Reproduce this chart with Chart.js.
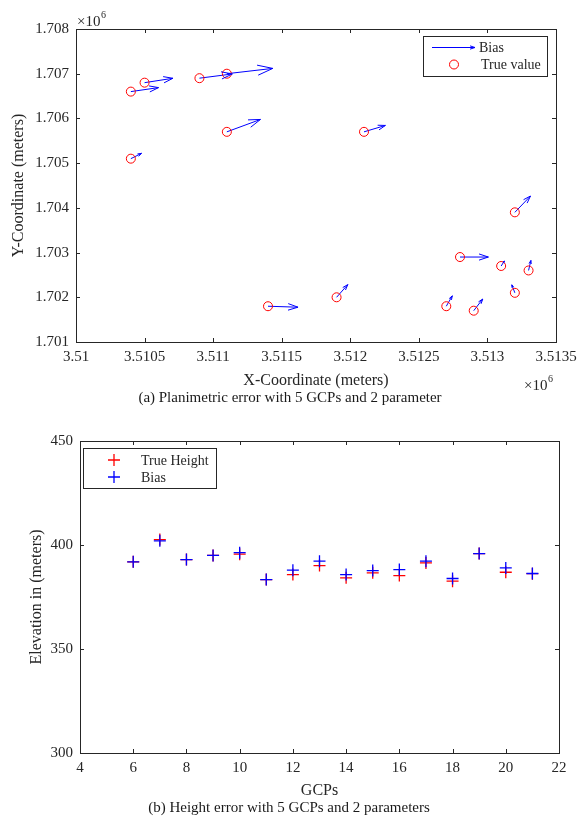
<!DOCTYPE html>
<html>
<head>
<meta charset="utf-8">
<script src="https://cdn.jsdelivr.net/npm/chart.js@4.4.1/dist/chart.umd.min.js"></script>
<style>
    html, body { margin: 0; padding: 0; background: #fff; }
    #page { position: relative; width: 578px; height: 823px; overflow: hidden; }
    canvas { position: absolute; left: 0; }
    #planChart { top: 0; }
    #heightChart { top: 410px; }
</style>
</head>
<body>
<div id="page">
    <canvas id="planChart" width="578" height="410"></canvas>
    <canvas id="heightChart" width="578" height="413"></canvas>
</div>
<script>
// (a) true GCP positions, metres
const trueX = [3510400, 3510500, 3510900, 3511100, 3511100, 3512100, 3510400, 3513200,
               3512800, 3513100, 3513300, 3513200, 3512700, 3512900, 3511400, 3511900];
const trueY = [1706600, 1706800, 1706900, 1707000, 1705700, 1705700, 1705100, 1703900,
               1702900, 1702700, 1702600, 1702100, 1701800, 1701700, 1701800, 1702000];
// bias vectors as drawn by the quiver (metres, scaled)
const biasU = [202, 207, 240, 335, 245, 156, 78, 114, 207, 24, 17, -22, 44, 66, 219, 82];
const biasV = [89, 98, 94, 119, 277, 143, 119, 365, 0, 112, 224, 179, 233, 262, -22, 284];

const xTicksA = [3510000, 3510500, 3511000, 3511500, 3512000, 3512500, 3513000, 3513500];
const yTicksA = [1701000, 1702000, 1703000, 1704000, 1705000, 1706000, 1707000, 1708000];

// (b) heights per GCP
const gcpIds = [6, 7, 8, 9, 10, 11, 12, 13, 14, 15, 16, 17, 18, 19, 20, 21];
const trueHeight = [391.9, 402.6, 393.0, 395.0, 395.6, 383.4, 385.8, 390.1,
                    384.2, 386.6, 385.3, 391.4, 382.6, 395.9, 386.9, 386.2];
const biasHeight = [391.9, 402.0, 393.0, 395.0, 396.3, 383.4, 387.9, 392.2,
                    385.8, 387.7, 388.2, 392.2, 383.9, 395.9, 389.0, 386.3];

const xTicksB = [4, 6, 8, 10, 12, 14, 16, 18, 20, 22];
const yTicksB = [300, 350, 400, 450];

const axisColor = '#262626';
const serif = '"Liberation Serif", "DejaVu Serif", serif';
const RED = '#ff0000';
const BLUE = '#0000ff';

Chart.defaults.font.family = serif;
Chart.defaults.color = axisColor;

// force the plot box to a fixed size
function fixSize(w, h) {
    return scale => {
        if (w !== null) scale.width = w;
        if (h !== null) scale.height = h;
        scale.paddingLeft = scale.paddingRight = scale.paddingTop = scale.paddingBottom = 0;
    };
}

function useTicks(list) {
    return scale => { scale.ticks = list.map(v => ({ value: v })); };
}

// matlab style box with inward ticks on all sides
const boxPlugin = {
    id: 'boxTicks',
    afterDraw(chart) {
        const { ctx, chartArea: a, scales } = chart;
        const len = 4;
        ctx.save();
        ctx.strokeStyle = axisColor;
        ctx.lineWidth = 1;
        ctx.beginPath();
        scales.x.ticks.forEach(t => {
            const px = Math.round(scales.x.getPixelForValue(t.value)) + 0.5;
            ctx.moveTo(px, a.bottom); ctx.lineTo(px, a.bottom - len);
            ctx.moveTo(px, a.top); ctx.lineTo(px, a.top + len);
        });
        scales.y.ticks.forEach(t => {
            const py = Math.round(scales.y.getPixelForValue(t.value)) + 0.5;
            ctx.moveTo(a.left, py); ctx.lineTo(a.left + len, py);
            ctx.moveTo(a.right, py); ctx.lineTo(a.right - len, py);
        });
        ctx.stroke();
        ctx.strokeRect(Math.round(a.left) + 0.5, Math.round(a.top) + 0.5,
            Math.round(a.right - a.left), Math.round(a.bottom - a.top));
        ctx.restore();
    }
};

function drawHead(ctx, x0, y0, x1, y1) {
    const alpha = 0.33, beta = 0.33;
    const u = x1 - x0, v = y1 - y0;
    ctx.beginPath();
    ctx.moveTo(x1 - alpha * (u + beta * v), y1 - alpha * (v - beta * u));
    ctx.lineTo(x1, y1);
    ctx.lineTo(x1 - alpha * (u - beta * v), y1 - alpha * (v + beta * u));
    ctx.stroke();
}

function drawTimes(ctx, x, y) {
    ctx.font = '15px ' + serif;
    ctx.textAlign = 'left';
    ctx.textBaseline = 'middle';
    ctx.fillText('\u00d710', x, y);
    const w = ctx.measureText('\u00d710').width;
    ctx.font = '10px ' + serif;
    ctx.fillText('6', x + w + 0.5, y - 7);
}

const quiverPlugin = {
    id: 'quiverHeads',
    afterDatasetsDraw(chart) {
        const { ctx, scales: { x, y } } = chart;
        ctx.save();
        ctx.strokeStyle = BLUE;
        ctx.lineWidth = 1;
        trueX.forEach((tx, i) => {
            const x0 = x.getPixelForValue(tx), y0 = y.getPixelForValue(trueY[i]);
            const x1 = x.getPixelForValue(tx + biasU[i]), y1 = y.getPixelForValue(trueY[i] + biasV[i]);
            drawHead(ctx, x0, y0, x1, y1);
        });
        ctx.restore();
    },
    afterDraw(chart) {
        const ctx = chart.ctx;
        ctx.save();
        // legend
        ctx.fillStyle = '#fff';
        ctx.fillRect(423, 36, 124, 40);
        ctx.strokeStyle = axisColor;
        ctx.lineWidth = 1;
        ctx.strokeRect(423.5, 36.5, 124, 40);
        ctx.strokeStyle = BLUE;
        ctx.beginPath();
        ctx.moveTo(432, 47.5); ctx.lineTo(475, 47.5);
        ctx.stroke();
        drawHead(ctx, 460, 47.5, 475, 47.5);
        ctx.strokeStyle = RED;
        ctx.beginPath();
        ctx.arc(454, 64.5, 4.5, 0, Math.PI * 2);
        ctx.stroke();
        ctx.fillStyle = axisColor;
        ctx.font = '14px ' + serif;
        ctx.textAlign = 'left';
        ctx.textBaseline = 'middle';
        ctx.fillText('Bias', 479, 48);
        ctx.fillText('True value', 481, 65);
        // exponents
        drawTimes(ctx, 77, 22);
        drawTimes(ctx, 524, 386);
        // caption
        ctx.fillStyle = '#1a1a1a';
        ctx.font = '15px ' + serif;
        ctx.textAlign = 'center';
        ctx.fillText('(a) Planimetric error with 5 GCPs and 2 parameter', 290, 398);
        ctx.restore();
    }
};

const heightPlugin = {
    id: 'heightExtras',
    afterDraw(chart) {
        const ctx = chart.ctx;
        ctx.save();
        ctx.fillStyle = '#fff';
        ctx.fillRect(83, 38, 133, 40);
        ctx.strokeStyle = axisColor;
        ctx.lineWidth = 1;
        ctx.strokeRect(83.5, 38.5, 133, 40);
        [[RED, 50], [BLUE, 67]].forEach(([c, yy]) => {
            ctx.strokeStyle = c;
            ctx.lineWidth = 1.3;
            ctx.beginPath();
            ctx.moveTo(108, yy); ctx.lineTo(120, yy);
            ctx.moveTo(114, yy - 6); ctx.lineTo(114, yy + 6);
            ctx.stroke();
        });
        ctx.fillStyle = axisColor;
        ctx.font = '14px ' + serif;
        ctx.textAlign = 'left';
        ctx.textBaseline = 'middle';
        ctx.fillText('True Height', 141, 51);
        ctx.fillText('Bias', 141, 68);
        ctx.fillStyle = '#1a1a1a';
        ctx.font = '15px ' + serif;
        ctx.textAlign = 'center';
        ctx.fillText('(b) Height error with 5 GCPs and 2 parameters', 289, 398);
        ctx.restore();
    }
};

// shafts of the quiver arrows as broken line segments
const shaftData = [];
trueX.forEach((tx, i) => {
    shaftData.push({ x: tx, y: trueY[i] });
    shaftData.push({ x: tx + biasU[i], y: trueY[i] + biasV[i] });
    shaftData.push({ x: tx + biasU[i], y: null });
});

new Chart(document.getElementById('planChart'), {
    type: 'scatter',
    data: {
        datasets: [
            {
                label: 'True value',
                data: trueX.map((tx, i) => ({ x: tx, y: trueY[i] })),
                pointStyle: 'circle',
                pointRadius: 4.5,
                borderColor: RED,
                backgroundColor: 'rgba(0,0,0,0)',
                borderWidth: 1,
                order: 0
            },
            {
                label: 'Bias',
                data: shaftData,
                showLine: true,
                spanGaps: false,
                borderColor: BLUE,
                borderWidth: 1,
                pointRadius: 0,
                order: 1
            }
        ]
    },
    options: {
        responsive: false,
        animation: false,
        layout: { padding: { top: 29, right: 22, bottom: 0, left: 0 } },
        plugins: { legend: { display: false }, tooltip: { enabled: false } },
        scales: {
            x: {
                type: 'linear', min: 3510000, max: 3513500,
                afterBuildTicks: useTicks(xTicksA),
                afterFit: fixSize(null, 68),
                grid: { display: false, drawTicks: false },
                border: { display: false },
                ticks: {
                    padding: 6, autoSkip: false, maxRotation: 0,
                    font: { size: 15 },
                    callback: v => String(parseFloat((v / 1e6).toFixed(4)))
                },
                title: { display: true, text: 'X-Coordinate (meters)', font: { size: 16 }, padding: { top: 0, bottom: 20 } }
            },
            y: {
                type: 'linear', min: 1701000, max: 1708000,
                afterBuildTicks: useTicks(yTicksA),
                afterFit: fixSize(76, null),
                grid: { display: false, drawTicks: false },
                border: { display: false },
                ticks: {
                    padding: 7, autoSkip: false,
                    font: { size: 15 },
                    callback: v => (v / 1e6).toFixed(3)
                },
                title: { display: true, text: 'Y-Coordinate (meters)', font: { size: 16 }, padding: { top: 9, bottom: 0 } }
            }
        }
    },
    plugins: [quiverPlugin, boxPlugin]
});

new Chart(document.getElementById('heightChart'), {
    type: 'scatter',
    data: {
        datasets: [
            {
                label: 'Bias',
                data: gcpIds.map((g, i) => ({ x: g, y: biasHeight[i] })),
                pointStyle: 'cross',
                pointRadius: 6,
                borderColor: BLUE,
                borderWidth: 1.3,
                order: 0
            },
            {
                label: 'True Height',
                data: gcpIds.map((g, i) => ({ x: g, y: trueHeight[i] })),
                pointStyle: 'cross',
                pointRadius: 6,
                borderColor: RED,
                borderWidth: 1.3,
                order: 1
            }
        ]
    },
    options: {
        responsive: false,
        animation: false,
        layout: { padding: { top: 31, right: 19, bottom: 0, left: 0 } },
        plugins: { legend: { display: false }, tooltip: { enabled: false } },
        scales: {
            x: {
                type: 'linear', min: 4, max: 22,
                afterBuildTicks: useTicks(xTicksB),
                afterFit: fixSize(null, 70),
                grid: { display: false, drawTicks: false },
                border: { display: false },
                ticks: { padding: 6, autoSkip: false, maxRotation: 0, font: { size: 15 } },
                title: { display: true, text: 'GCPs', font: { size: 16 }, padding: { top: 0, bottom: 23 } }
            },
            y: {
                type: 'linear', min: 300, max: 450,
                afterBuildTicks: useTicks(yTicksB),
                afterFit: fixSize(80, null),
                grid: { display: false, drawTicks: false },
                border: { display: false },
                ticks: { padding: 7, autoSkip: false, font: { size: 15 } },
                title: { display: true, text: 'Elevation in (meters)', font: { size: 16 }, padding: { top: 27, bottom: 0 } }
            }
        }
    },
    plugins: [heightPlugin, boxPlugin]
});
</script>
</body>
</html>
